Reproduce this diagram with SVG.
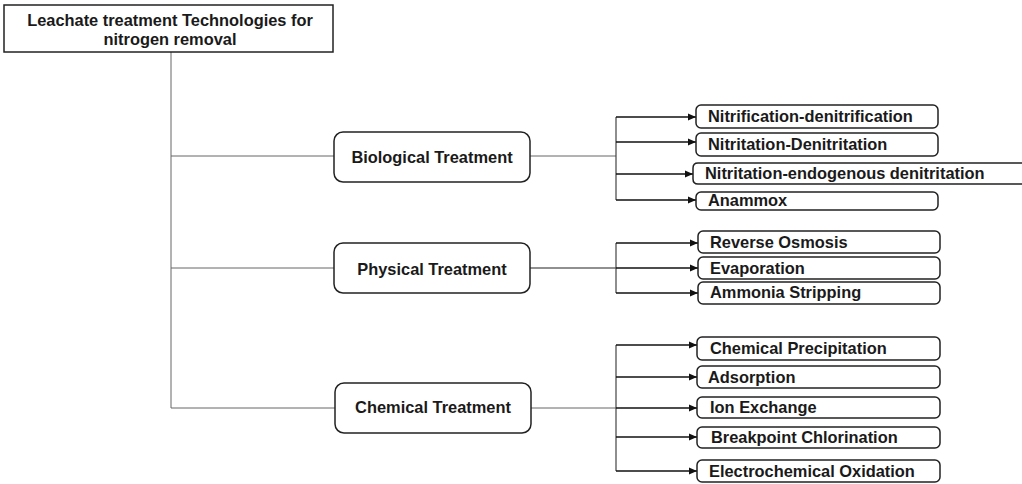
<svg xmlns="http://www.w3.org/2000/svg" width="1022" height="484" viewBox="0 0 1022 484">
<defs>
<marker id="ah" markerWidth="8" markerHeight="8" refX="8" refY="4" orient="auto" markerUnits="userSpaceOnUse">
<path d="M0,0.5 L8,4 L0,7.5 Z" fill="#111"/>
</marker>
<style>
text{font-family:"Liberation Sans",Arial,sans-serif;font-weight:bold;font-size:16.4px;fill:#1a1a1a}
.mid{text-anchor:middle}
.box{fill:#fff;stroke:#222;stroke-width:1.5}
.thin{stroke:#666;stroke-width:1;fill:none}
.dark{stroke:#222;stroke-width:1.2;fill:none}
.arr{stroke:#111;stroke-width:1.3;fill:none;marker-end:url(#ah)}
.br{stroke:#444;stroke-width:1.2;fill:none}
</style>
</defs>
<g id="connectors">
<path class="thin" d="M171,52 V408 M171,156 H334 M171,268 H334 M171,408 H335 M530,156 H616 M531,408 H616"/>
<path class="dark" d="M530,268 H616"/>
<path class="br" d="M616,117 V200 M616,243 V293 M616,345 V471"/>
<path class="arr" d="M616,117 H696"/>
<path class="arr" d="M616,142 H696"/>
<path class="arr" d="M616,174 H693"/>
<path class="arr" d="M616,200 H696"/>
<path class="arr" d="M616,243 H698"/>
<path class="arr" d="M616,268 H698"/>
<path class="arr" d="M616,293 H698"/>
<path class="arr" d="M616,345 H697"/>
<path class="arr" d="M616,377 H697"/>
<path class="arr" d="M616,408 H697"/>
<path class="arr" d="M616,437 H697"/>
<path class="arr" d="M616,471 H697"/>
</g>
<g id="root">
<rect class="box" x="4" y="5" width="329" height="47"/>
<text class="mid" x="170" y="26">Leachate treatment Technologies for</text>
<text class="mid" x="170" y="45">nitrogen removal</text>
</g>
<g id="biological">
<rect class="box" x="334" y="132" width="196" height="50" rx="9"/>
<text class="mid" x="432" y="163">Biological Treatment</text>
</g>
<g id="physical">
<rect class="box" x="334" y="243" width="196" height="50" rx="9"/>
<text class="mid" x="432" y="275">Physical Treatment</text>
</g>
<g id="chemical">
<rect class="box" x="335" y="383" width="196" height="50" rx="9"/>
<text class="mid" x="433" y="413">Chemical Treatment</text>
</g>
<g id="nitrification">
<rect class="box" x="696" y="105" width="242" height="23" rx="5"/>
<text x="708" y="122">Nitrification-denitrification</text>
</g>
<g id="nitritation">
<rect class="box" x="696" y="133" width="242" height="23" rx="5"/>
<text x="708" y="150">Nitritation-Denitritation</text>
</g>
<g id="endogenous">
<path class="box" d="M1022,163 H698 Q693,163 693,168 V179 Q693,184 698,184 H1022"/>
<text x="705" y="179">Nitritation-endogenous denitritation</text>
</g>
<g id="anammox">
<rect class="box" x="696" y="192" width="242" height="18" rx="5"/>
<text x="708" y="206">Anammox</text>
</g>
<g id="reverse-osmosis">
<rect class="box" x="698" y="231" width="242" height="22" rx="5"/>
<text x="710" y="248">Reverse Osmosis</text>
</g>
<g id="evaporation">
<rect class="box" x="698" y="257" width="242" height="22" rx="5"/>
<text x="710" y="274">Evaporation</text>
</g>
<g id="ammonia-stripping">
<rect class="box" x="698" y="282" width="242" height="22" rx="5"/>
<text x="710" y="298">Ammonia Stripping</text>
</g>
<g id="chemical-precipitation">
<rect class="box" x="697" y="337" width="243" height="23" rx="5"/>
<text x="710" y="354">Chemical Precipitation</text>
</g>
<g id="adsorption">
<rect class="box" x="697" y="366" width="243" height="22" rx="5"/>
<text x="708" y="383">Adsorption</text>
</g>
<g id="ion-exchange">
<rect class="box" x="697" y="397" width="243" height="21" rx="5"/>
<text x="710" y="413">Ion Exchange</text>
</g>
<g id="breakpoint">
<rect class="box" x="697" y="427" width="243" height="21" rx="5"/>
<text x="711" y="443">Breakpoint Chlorination</text>
</g>
<g id="electrochemical">
<rect class="box" x="697" y="460" width="243" height="22" rx="5"/>
<text x="709" y="477">Electrochemical Oxidation</text>
</g>
</svg>
